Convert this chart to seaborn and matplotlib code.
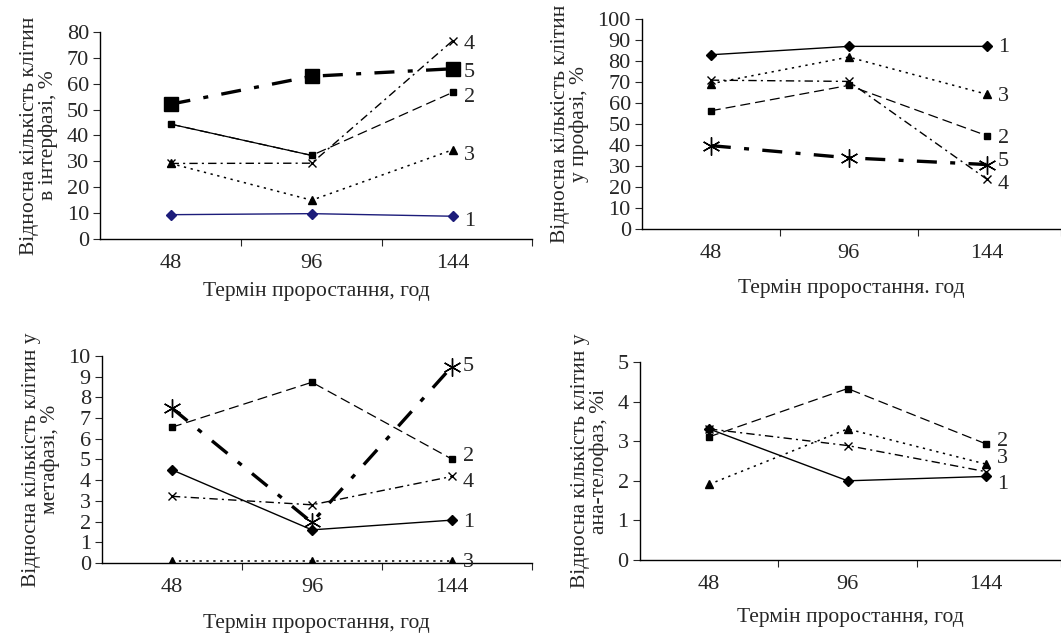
import matplotlib
matplotlib.use("Agg")
import matplotlib.pyplot as plt
import seaborn as sns

# --- data ---
days = ["48", "96", "144"]

# interphase, %
inter_1 = [9.4, 9.8, 8.8]
inter_2 = [44.4, 32.3, 56.7]
inter_3 = [29.2, 15.0, 34.5]
inter_4 = [29.2, 29.3, 76.7]
inter_5 = [52.1, 62.9, 65.8]

# prophase, %
pro_1 = [83.0, 87.0, 87.0]
pro_2 = [56.3, 68.4, 44.5]
pro_3 = [69.2, 81.9, 64.2]
pro_4 = [70.9, 70.3, 23.8]
pro_5 = [39.7, 33.9, 30.7]

# metaphase, %
meta_1 = [4.5, 1.6, 2.07]
meta_2 = [6.56, 8.73, 5.02]
meta_3 = [0.1, 0.1, 0.1]
meta_4 = [3.22, 2.81, 4.18]
meta_5 = [7.48, 1.96, 9.49]

# ana-telophase, %
ana_1 = [3.31, 2.0, 2.11]
ana_2 = [3.11, 4.33, 2.93]
ana_3 = [1.91, 3.31, 2.42]
ana_4 = [3.31, 2.89, 2.23]

sns.set_theme(style="white")
plt.rcParams["font.family"] = ["Liberation Serif", "DejaVu Serif"]
plt.rcParams["axes.linewidth"] = 1.0

FS_TICK = 16
FS_LABEL = 15.5
FS_NUM = 16
pos = list(range(len(days)))

# line styles per series number
STYLE = {
    1: dict(marker="D", markersize=5, linestyle="-", linewidth=1.0),
    2: dict(marker="s", markersize=4, linestyle=(0, (8, 4)), linewidth=0.9),
    3: dict(marker="^", markersize=6, linestyle=(0, (1.5, 3)), linewidth=1.1),
    4: dict(marker="x", markersize=6, linestyle=(0, (6, 3, 1.5, 3)), linewidth=1.0),
    5: dict(marker=(6, 2, 0), markersize=13, linestyle=(0, (6, 4, 1.5, 4)), linewidth=2.4),
}


def panel(rect, series, ymax, ystep, ylabel, xlabel, xright, label_dy,
          colors=None, xlabelpad=6):
    ax = fig.add_axes(rect)
    for num, vals in series:
        st = dict(STYLE[num])
        if num == 5 and ymax == 80:
            st.update(marker="s", markersize=10)
        col = (colors or {}).get(num, "black")
        sns.lineplot(x=pos, y=vals, ax=ax, color=col, markeredgecolor=col,
                     markerfacecolor=col, markeredgewidth=1.0, **st)
        ax.annotate(str(num), (pos[-1], vals[-1]), xytext=(8, label_dy.get(num, -3)),
                    textcoords="offset points", ha="left", va="center",
                    fontsize=FS_NUM)
    ax.set_xlim(-0.5, xright)
    ax.set_ylim(0, ymax)
    ax.set_yticks([v * ystep for v in range(int(ymax / ystep) + 1)])
    ax.set_xticks(pos)
    ax.set_xticklabels(days)
    ax.set_xticks([0.5, 1.5, xright], minor=True)
    ax.tick_params(axis="x", which="major", length=0, pad=11, labelsize=FS_TICK)
    ax.tick_params(axis="x", which="minor", length=5, width=0.8, direction="out", bottom=True)
    ax.tick_params(axis="y", length=5, width=0.8, direction="out", left=True, pad=3,
                   labelsize=FS_TICK)
    for s in ["top", "right"]:
        ax.spines[s].set_visible(False)
    for s in ["left", "bottom"]:
        ax.spines[s].set_color("black")
    ax.set_xlabel(xlabel, fontsize=FS_LABEL, labelpad=xlabelpad)
    ax.set_ylabel(ylabel, fontsize=FS_LABEL, labelpad=6, linespacing=1.0)
    ax.grid(False)
    return ax


fig = plt.figure(figsize=(10.61, 6.36), dpi=100)

panel([0.0943, 0.6242, 0.407, 0.3255],
      [(1, inter_1), (2, inter_2), (3, inter_3), (4, inter_4), (5, inter_5)],
      80, 10, "Відносна кількість клітин\nв інтерфазі, %", "Термін проростання, год",
      2.56, {1: -4, 2: -4, 3: -4, 4: -3, 5: -3}, colors={1: "#1c1c7a"})
# series 2 is solid between 48 and 96 in the first panel
ax1 = fig.axes[0]
sns.lineplot(x=pos[:2], y=inter_2[:2], ax=ax1, color="black", linewidth=0.9)

panel([0.605, 0.640, 0.395, 0.330],
      [(1, pro_1), (2, pro_2), (3, pro_3), (4, pro_4), (5, pro_5)],
      100, 10, "Відносна кількість клітин\nу профазі, %", "Термін проростання. год",
      2.54, {1: -1, 2: -2, 3: -2, 4: -4, 5: 2}, xlabelpad=11)

panel([0.0961, 0.1148, 0.405, 0.3255],
      [(1, meta_1), (2, meta_2), (3, meta_3), (4, meta_4), (5, meta_5)],
      10, 1, "Відносна кількість клітин у\nметафазі, %", "Термін проростання, год",
      2.57, {1: -2, 2: 2, 3: -1, 4: -4, 5: 0}, xlabelpad=12)

panel([0.603, 0.1195, 0.397, 0.3113],
      [(1, ana_1), (2, ana_2), (3, ana_3), (4, ana_4)],
      5, 1, "Відносна кількість клітин у\nана-телофаз, %і", "Термін проростання, год",
      2.54, {1: -6, 2: 2, 3: 4}, xlabelpad=10)
# the "4" label is absent in the last panel
fig.axes[3].texts[-1].set_visible(False)

fig.savefig("out.png", dpi=100)
